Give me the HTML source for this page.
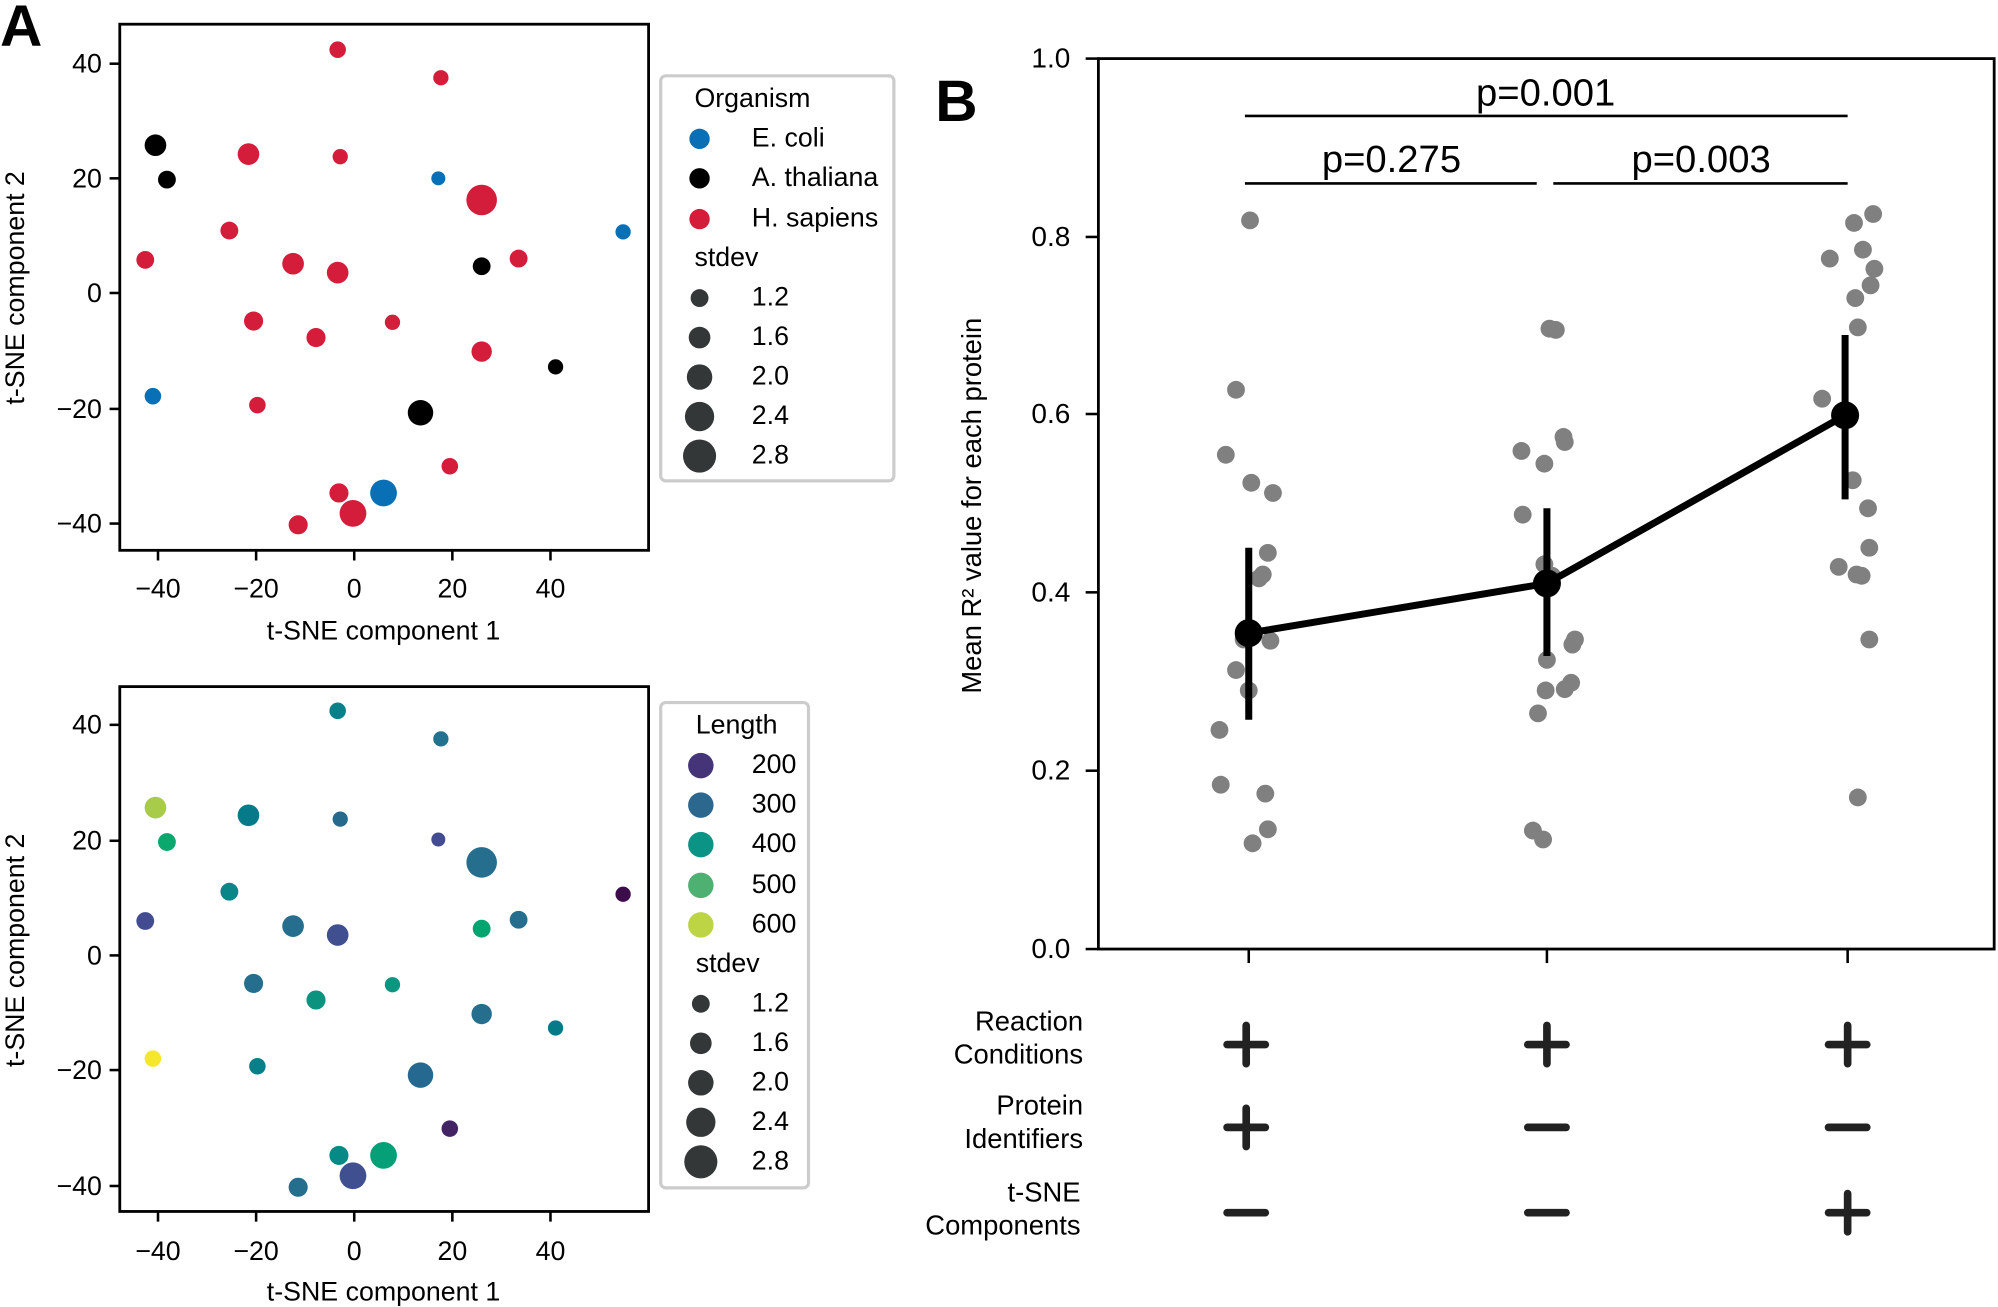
<!DOCTYPE html>
<html><head><meta charset="utf-8"><style>html,body{margin:0;padding:0;background:#fff}svg{display:block}</style></head>
<body>
<svg width="1998" height="1307" viewBox="0 0 1568 1026" preserveAspectRatio="none" xmlns="http://www.w3.org/2000/svg" font-family="Liberation Sans, Arial, sans-serif">
<rect width="1568" height="1026" fill="#fff"/>
<text x="0" y="36" font-size="46" font-weight="bold">A</text>
<text x="734" y="95" font-size="46" font-weight="bold">B</text>

<!-- Top plot -->
<g font-size="21">
<rect x="94" y="19" width="415" height="413" fill="none" stroke="#000" stroke-width="2.2"/>
<g stroke="#000" stroke-width="2">
<line x1="124" y1="432" x2="124" y2="440"/><line x1="201" y1="432" x2="201" y2="440"/><line x1="278" y1="432" x2="278" y2="440"/><line x1="355" y1="432" x2="355" y2="440"/><line x1="432" y1="432" x2="432" y2="440"/>
<line x1="86" y1="50" x2="94" y2="50"/><line x1="86" y1="140" x2="94" y2="140"/><line x1="86" y1="230" x2="94" y2="230"/><line x1="86" y1="321" x2="94" y2="321"/><line x1="86" y1="411" x2="94" y2="411"/>
</g>
<g text-anchor="middle"><text x="124" y="469">−40</text><text x="201" y="469">−20</text><text x="278" y="469">0</text><text x="355" y="469">20</text><text x="432" y="469">40</text></g>
<g text-anchor="end"><text x="80" y="57">40</text><text x="80" y="147">20</text><text x="80" y="237">0</text><text x="80" y="328">−20</text><text x="80" y="418">−40</text></g>
<text x="301" y="502" text-anchor="middle">t-SNE component 1</text>
<text transform="translate(19,226) rotate(-90)" text-anchor="middle">t-SNE component 2</text>
<g fill="#d41c3b">
<circle cx="265" cy="39" r="6.5"/><circle cx="346" cy="61" r="6"/><circle cx="195" cy="121" r="8.5"/><circle cx="267" cy="123" r="6"/><circle cx="378" cy="157" r="12"/><circle cx="180" cy="181" r="7"/><circle cx="114" cy="204" r="7"/><circle cx="230" cy="207" r="8.5"/><circle cx="265" cy="214" r="8.5"/><circle cx="407" cy="203" r="7"/><circle cx="199" cy="252" r="7.5"/><circle cx="248" cy="265" r="7.5"/><circle cx="308" cy="253" r="6"/><circle cx="378" cy="276" r="8"/><circle cx="202" cy="318" r="6.5"/><circle cx="353" cy="366" r="6.5"/><circle cx="266" cy="387" r="7.5"/><circle cx="277" cy="403" r="10.5"/><circle cx="234" cy="412" r="7.5"/>
</g>
<g fill="#000"><circle cx="122" cy="114" r="8.5"/><circle cx="131" cy="141" r="7"/><circle cx="378" cy="209" r="7"/><circle cx="436" cy="288" r="6"/><circle cx="330" cy="324" r="10"/></g>
<g fill="#0a70b6"><circle cx="344" cy="140" r="5.5"/><circle cx="489" cy="182" r="6"/><circle cx="120" cy="311" r="6.5"/><circle cx="301" cy="387" r="10.5"/></g>
<rect x="518.5" y="59.5" width="183" height="318" rx="4" fill="#fff" stroke="#ccc" stroke-width="2.5"/>
<text x="545" y="84">Organism</text>
<circle cx="549" cy="109" r="8" fill="#0a70b6"/><text x="590" y="115">E. coli</text>
<circle cx="549" cy="140" r="8" fill="#000"/><text x="590" y="146">A. thaliana</text>
<circle cx="549" cy="172" r="8" fill="#d41c3b"/><text x="590" y="178">H. sapiens</text>
<text x="545" y="209">stdev</text>
<g fill="#333738"><circle cx="549" cy="234" r="7"/><circle cx="549" cy="265" r="8.5"/><circle cx="549" cy="296" r="10"/><circle cx="549" cy="327" r="11.5"/><circle cx="549" cy="358" r="13"/></g>
<text x="590" y="240">1.2</text><text x="590" y="271">1.6</text><text x="590" y="302">2.0</text><text x="590" y="333">2.4</text><text x="590" y="364">2.8</text>
</g>

<!-- Bottom plot -->
<g font-size="21">
<rect x="94" y="539" width="415" height="412" fill="none" stroke="#000" stroke-width="2.2"/>
<g stroke="#000" stroke-width="2">
<line x1="124" y1="951" x2="124" y2="959"/><line x1="201" y1="951" x2="201" y2="959"/><line x1="278" y1="951" x2="278" y2="959"/><line x1="355" y1="951" x2="355" y2="959"/><line x1="432" y1="951" x2="432" y2="959"/>
<line x1="86" y1="569" x2="94" y2="569"/><line x1="86" y1="660" x2="94" y2="660"/><line x1="86" y1="750" x2="94" y2="750"/><line x1="86" y1="840" x2="94" y2="840"/><line x1="86" y1="931" x2="94" y2="931"/>
</g>
<g text-anchor="middle"><text x="124" y="989">−40</text><text x="201" y="989">−20</text><text x="278" y="989">0</text><text x="355" y="989">20</text><text x="432" y="989">40</text></g>
<g text-anchor="end"><text x="80" y="576">40</text><text x="80" y="667">20</text><text x="80" y="757">0</text><text x="80" y="847">−20</text><text x="80" y="938">−40</text></g>
<text x="301" y="1021" text-anchor="middle">t-SNE component 1</text>
<text transform="translate(19,746) rotate(-90)" text-anchor="middle">t-SNE component 2</text>
<circle cx="265" cy="558" r="6.5" fill="#078089"/>
<circle cx="346" cy="580" r="6" fill="#22718f"/>
<circle cx="122" cy="634" r="8.5" fill="#a8cb4a"/>
<circle cx="131" cy="661" r="7" fill="#0aa86d"/>
<circle cx="195" cy="640" r="8.5" fill="#077a89"/>
<circle cx="267" cy="643" r="6" fill="#25698d"/>
<circle cx="344" cy="659" r="5.5" fill="#434c91"/>
<circle cx="378" cy="677" r="12" fill="#256e8e"/>
<circle cx="489" cy="702" r="6" fill="#3c0c4b"/>
<circle cx="180" cy="700" r="7" fill="#0a8688"/>
<circle cx="114" cy="723" r="7" fill="#434c91"/>
<circle cx="230" cy="727" r="8.5" fill="#256e8e"/>
<circle cx="265" cy="734" r="8.5" fill="#3f4f8f"/>
<circle cx="378" cy="729" r="7" fill="#02a470"/>
<circle cx="407" cy="722" r="7" fill="#256e8e"/>
<circle cx="199" cy="772" r="7.5" fill="#256e8e"/>
<circle cx="248" cy="785" r="7.5" fill="#0b9380"/>
<circle cx="308" cy="773" r="6" fill="#0a9681"/>
<circle cx="378" cy="796" r="8" fill="#256e8e"/>
<circle cx="436" cy="807" r="6" fill="#077a89"/>
<circle cx="120" cy="831" r="6.5" fill="#f5e72e"/>
<circle cx="202" cy="837" r="6.5" fill="#078089"/>
<circle cx="330" cy="844" r="10" fill="#256890"/>
<circle cx="353" cy="886" r="6.5" fill="#432363"/>
<circle cx="266" cy="907" r="7.5" fill="#078a85"/>
<circle cx="301" cy="907" r="10.5" fill="#059f78"/>
<circle cx="277" cy="923" r="10.5" fill="#3f4f8f"/>
<circle cx="234" cy="932" r="7.5" fill="#256e8e"/>
<rect x="518.5" y="551.5" width="116" height="381" rx="4" fill="#fff" stroke="#ccc" stroke-width="2.5"/>
<text x="546" y="576">Length</text>
<circle cx="550" cy="601" r="10" fill="#463479"/><text x="590" y="607">200</text>
<circle cx="550" cy="632" r="10" fill="#2c678e"/><text x="590" y="638">300</text>
<circle cx="550" cy="663" r="10" fill="#0b9485"/><text x="590" y="669">400</text>
<circle cx="550" cy="695" r="10" fill="#4eb172"/><text x="590" y="701">500</text>
<circle cx="550" cy="726" r="10" fill="#bdd545"/><text x="590" y="732">600</text>
<text x="546" y="763">stdev</text>
<g fill="#333738"><circle cx="550" cy="788" r="7"/><circle cx="550" cy="819" r="8.5"/><circle cx="550" cy="850" r="10"/><circle cx="550" cy="881" r="11.5"/><circle cx="550" cy="912" r="13"/></g>
<text x="590" y="794">1.2</text><text x="590" y="825">1.6</text><text x="590" y="856">2.0</text><text x="590" y="887">2.4</text><text x="590" y="918">2.8</text>
</g>

<!-- Panel B -->
<g font-size="22">
<rect x="862" y="46" width="703" height="699" fill="none" stroke="#000" stroke-width="2.2"/>
<g stroke="#000" stroke-width="2">
<line x1="852" y1="46" x2="862" y2="46"/><line x1="852" y1="186" x2="862" y2="186"/><line x1="852" y1="325" x2="862" y2="325"/><line x1="852" y1="465" x2="862" y2="465"/><line x1="852" y1="605" x2="862" y2="605"/><line x1="852" y1="745" x2="862" y2="745"/>
<line x1="980" y1="745" x2="980" y2="756"/><line x1="1214" y1="745" x2="1214" y2="756"/><line x1="1450" y1="745" x2="1450" y2="756"/>
</g>
<g text-anchor="end"><text x="840" y="53">1.0</text><text x="840" y="193">0.8</text><text x="840" y="332">0.6</text><text x="840" y="472">0.4</text><text x="840" y="612">0.2</text><text x="840" y="752">0.0</text></g>
<text transform="translate(770,397) rotate(-90)" text-anchor="middle" font-size="21.5">Mean R² value for each protein</text>
<g fill="#808080">
<circle cx="981" cy="173" r="7"/><circle cx="970" cy="306" r="7"/><circle cx="962" cy="357" r="7"/><circle cx="982" cy="379" r="7"/><circle cx="999" cy="387" r="7"/><circle cx="995" cy="434" r="7"/><circle cx="991" cy="451" r="7"/><circle cx="988" cy="454" r="7"/><circle cx="976" cy="502" r="7"/><circle cx="997" cy="503" r="7"/><circle cx="970" cy="526" r="7"/><circle cx="980" cy="542" r="7"/><circle cx="957" cy="573" r="7"/><circle cx="958" cy="616" r="7"/><circle cx="993" cy="623" r="7"/><circle cx="995" cy="651" r="7"/><circle cx="983" cy="662" r="7"/>
<circle cx="1216" cy="258" r="7"/><circle cx="1221" cy="259" r="7"/><circle cx="1194" cy="354" r="7"/><circle cx="1212" cy="364" r="7"/><circle cx="1227" cy="343" r="7"/><circle cx="1228" cy="347" r="7"/><circle cx="1195" cy="404" r="7"/><circle cx="1212" cy="443" r="7"/><circle cx="1218" cy="452" r="7"/><circle cx="1234" cy="506" r="7"/><circle cx="1236" cy="502" r="7"/><circle cx="1214" cy="518" r="7"/><circle cx="1213" cy="542" r="7"/><circle cx="1228" cy="541" r="7"/><circle cx="1233" cy="536" r="7"/><circle cx="1207" cy="560" r="7"/><circle cx="1203" cy="652" r="7"/><circle cx="1211" cy="659" r="7"/>
<circle cx="1470" cy="168" r="7"/><circle cx="1455" cy="175" r="7"/><circle cx="1462" cy="196" r="7"/><circle cx="1436" cy="203" r="7"/><circle cx="1471" cy="211" r="7"/><circle cx="1468" cy="224" r="7"/><circle cx="1456" cy="234" r="7"/><circle cx="1458" cy="257" r="7"/><circle cx="1430" cy="313" r="7"/><circle cx="1454" cy="377" r="7"/><circle cx="1466" cy="399" r="7"/><circle cx="1467" cy="430" r="7"/><circle cx="1443" cy="445" r="7"/><circle cx="1457" cy="451" r="7"/><circle cx="1461" cy="452" r="7"/><circle cx="1467" cy="502" r="7"/><circle cx="1458" cy="626" r="7"/>
</g>
<g stroke="#000" stroke-width="5.5" fill="none">
<line x1="980" y1="430" x2="980" y2="565"/><line x1="1214" y1="399" x2="1214" y2="515"/><line x1="1448" y1="263" x2="1448" y2="392"/>
<polyline points="980,497 1214,458 1448,326"/>
</g>
<g fill="#000"><circle cx="980" cy="497" r="11"/><circle cx="1214" cy="458" r="11"/><circle cx="1448" cy="326" r="11"/></g>
<g stroke="#000" stroke-width="2"><line x1="977" y1="91" x2="1450" y2="91"/><line x1="977" y1="144" x2="1206" y2="144"/><line x1="1219" y1="144" x2="1450" y2="144"/></g>
<g font-size="30" text-anchor="middle"><text x="1213" y="83">p=0.001</text><text x="1092" y="135">p=0.275</text><text x="1335" y="135">p=0.003</text></g>
<g text-anchor="end" font-size="21.5">
<text x="850" y="809">Reaction</text><text x="850" y="835">Conditions</text>
<text x="850" y="875">Protein</text><text x="850" y="901">Identifiers</text>
<text x="848" y="943">t-SNE</text><text x="848" y="969">Components</text>
</g>
<g stroke="#222" stroke-width="6" stroke-linecap="round">
<line x1="963" y1="820" x2="993" y2="820"/><line x1="978" y1="805" x2="978" y2="835"/>
<line x1="1199" y1="820" x2="1229" y2="820"/><line x1="1214" y1="805" x2="1214" y2="835"/>
<line x1="1435" y1="820" x2="1465" y2="820"/><line x1="1450" y1="805" x2="1450" y2="835"/>
<line x1="963" y1="885" x2="993" y2="885"/><line x1="978" y1="870" x2="978" y2="900"/>
<line x1="1199" y1="885" x2="1229" y2="885"/>
<line x1="1435" y1="885" x2="1465" y2="885"/>
<line x1="963" y1="952" x2="993" y2="952"/>
<line x1="1199" y1="952" x2="1229" y2="952"/>
<line x1="1435" y1="952" x2="1465" y2="952"/><line x1="1450" y1="937" x2="1450" y2="967"/>
</g>
</g>
</svg>
</body></html>
